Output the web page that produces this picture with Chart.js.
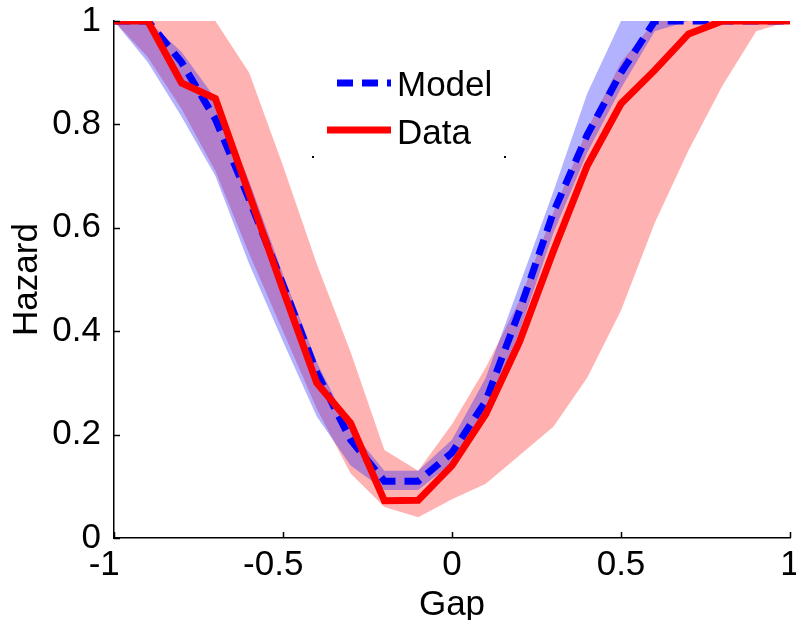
<!DOCTYPE html>
<html>
<head>
<meta charset="utf-8">
<script src="https://cdn.jsdelivr.net/npm/chart.js@4.4.1/dist/chart.umd.min.js"></script>
<style>
  html, body { margin: 0; padding: 0; background: #fff; }
</style>
</head>
<body>
<canvas id="chart" width="796" height="620"></canvas>
<script>
// Gap values (x)
const gap = [-1, -0.9, -0.8, -0.7, -0.6, -0.5, -0.4, -0.3, -0.2, -0.1, 0,
             0.1, 0.2, 0.3, 0.4, 0.5, 0.6, 0.7, 0.8, 0.9, 1];

// Observed hazard (red solid) and its shaded band
const dataHazard = [1, 1, 0.88, 0.85, 0.665, 0.48, 0.30, 0.222, 0.072, 0.073, 0.14,
                    0.24, 0.38, 0.555, 0.72, 0.84, 0.905, 0.975, 1, 1, 1];
const dataUpper = [1, 1, 1, 1, 0.9, 0.72, 0.53, 0.36, 0.17, 0.13, 0.22,
                   0.33, 0.46, 0.63, 0.79, 0.92, 1, 1, 1, 1, 1];
const dataLower = [1, 0.93, 0.83, 0.71, 0.55, 0.40, 0.25, 0.125, 0.06, 0.04, 0.075,
                   0.105, 0.16, 0.215, 0.31, 0.44, 0.61, 0.75, 0.875, 0.98, 1];

// Model hazard (blue dashed) and its shaded band
const modelHazard = [1, 1, 0.92, 0.81, 0.655, 0.49, 0.32, 0.19, 0.11, 0.11, 0.165,
                     0.265, 0.44, 0.63, 0.78, 0.9, 1, 1, 1, 1, 1];
const modelUpper = [1, 1, 0.94, 0.85, 0.69, 0.51, 0.34, 0.21, 0.13, 0.13, 0.19,
                    0.31, 0.49, 0.67, 0.86, 1, 1, 1, 1, 1, 1];
const modelLower = [1, 0.92, 0.815, 0.70, 0.53, 0.38, 0.235, 0.14, 0.093, 0.093, 0.145,
                    0.235, 0.40, 0.59, 0.745, 0.87, 0.98, 1, 1, 1, 1];

const xTicks = [-1, -0.5, 0, 0.5, 1];
const yTicks = [0, 0.2, 0.4, 0.6, 0.8, 1];

const FONT = { family: '"Liberation Sans", Arial, sans-serif', size: 35 };

function pts(ys) {
    return gap.map((x, i) => ({ x: x, y: ys[i] }));
}

function band(ys, color, fill, order) {
    return {
        data: pts(ys),
        borderColor: 'transparent',
        borderWidth: 0,
        backgroundColor: color,
        pointRadius: 0,
        fill: fill,
        order: order
    };
}

// Inward tick marks, MATLAB style
const innerTicks = {
    id: 'innerTicks',
    afterDatasetsDraw(chart) {
        const { ctx, chartArea, scales } = chart;
        ctx.save();
        ctx.strokeStyle = '#000';
        ctx.lineWidth = 1.5;
        ctx.beginPath();
        xTicks.forEach(v => {
            const px = Math.round(scales.x.getPixelForValue(v)) + 0.5;
            ctx.moveTo(px, chartArea.bottom);
            ctx.lineTo(px, chartArea.bottom - 6);
        });
        yTicks.forEach(v => {
            const py = Math.round(scales.y.getPixelForValue(v)) + 0.5;
            ctx.moveTo(chartArea.left, py);
            ctx.lineTo(chartArea.left + 6, py);
        });
        ctx.stroke();
        ctx.restore();
    }
};

// Legend drawn inside the axes
const innerLegend = {
    id: 'innerLegend',
    afterDraw(chart) {
        const { ctx } = chart;
        ctx.save();
        ctx.lineWidth = 7;
        ctx.strokeStyle = '#0000ff';
        ctx.setLineDash([16, 9]);
        ctx.beginPath();
        ctx.moveTo(337, 83);
        ctx.lineTo(391, 83);
        ctx.stroke();
        ctx.setLineDash([]);
        ctx.strokeStyle = '#ff0000';
        ctx.beginPath();
        ctx.moveTo(327, 130);
        ctx.lineTo(391, 130);
        ctx.stroke();
        ctx.fillStyle = '#000';
        ctx.font = '35px "Liberation Sans", Arial, sans-serif';
        ctx.textBaseline = 'alphabetic';
        ctx.fillText('Model', 397, 96);
        ctx.fillText('Data', 397, 144);
        // leftover corners of the legend box
        ctx.fillRect(312, 156, 2, 2);
        ctx.fillRect(504, 156, 2, 2);
        ctx.restore();
    }
};

// MATLAB-like labels: no trailing zeros, negatives sit a little left
const fmt = v => (v < 0 ? String(v) + '  ' : String(v));

new Chart(document.getElementById('chart'), {
    type: 'line',
    data: {
        datasets: [
            {
                label: 'Data',
                data: pts(dataHazard),
                borderColor: '#ff0000',
                borderWidth: 7,
                pointRadius: 0,
                fill: false,
                order: 0
            },
            {
                label: 'Model',
                data: pts(modelHazard),
                borderColor: '#0000ff',
                borderWidth: 7,
                borderDash: [16, 9],
                pointRadius: 0,
                fill: false,
                order: 1
            },
            band(modelUpper, 'rgba(0,0,255,0.3)', '+1', 2),
            band(modelLower, 'transparent', false, 2),
            band(dataUpper, 'rgba(255,0,0,0.3)', '+1', 3),
            band(dataLower, 'transparent', false, 3)
        ]
    },
    options: {
        responsive: false,
        animation: false,
        layout: { padding: { top: 21, right: 6, left: 0, bottom: 0 } },
        plugins: {
            legend: { display: false },
            tooltip: { enabled: false }
        },
        scales: {
            x: {
                type: 'linear',
                min: -1,
                max: 1,
                afterBuildTicks: s => { s.ticks = xTicks.map(v => ({ value: v })); },
                afterFit: s => { s.height = 82; s.paddingLeft = 0; s.paddingRight = 0; },
                ticks: { color: '#000', font: FONT, padding: -2, maxRotation: 0, callback: fmt },
                grid: { display: false },
                border: { display: true, color: '#000', width: 1.5 },
                title: { display: true, text: 'Gap', color: '#000', font: FONT, padding: { top: 0, bottom: -6 } }
            },
            y: {
                min: 0,
                max: 1,
                afterBuildTicks: s => { s.ticks = yTicks.map(v => ({ value: v })); },
                afterFit: s => { s.width = 114; s.paddingTop = 0; s.paddingBottom = 0; },
                ticks: { color: '#000', font: FONT, padding: 5, callback: v => String(v) },
                grid: { display: false },
                border: { display: true, color: '#000', width: 1.5 },
                title: { display: true, text: 'Hazard', color: '#000', font: FONT, padding: { top: 6, bottom: 0 } }
            }
        }
    },
    plugins: [innerTicks, innerLegend]
});
</script>
</body>
</html>
